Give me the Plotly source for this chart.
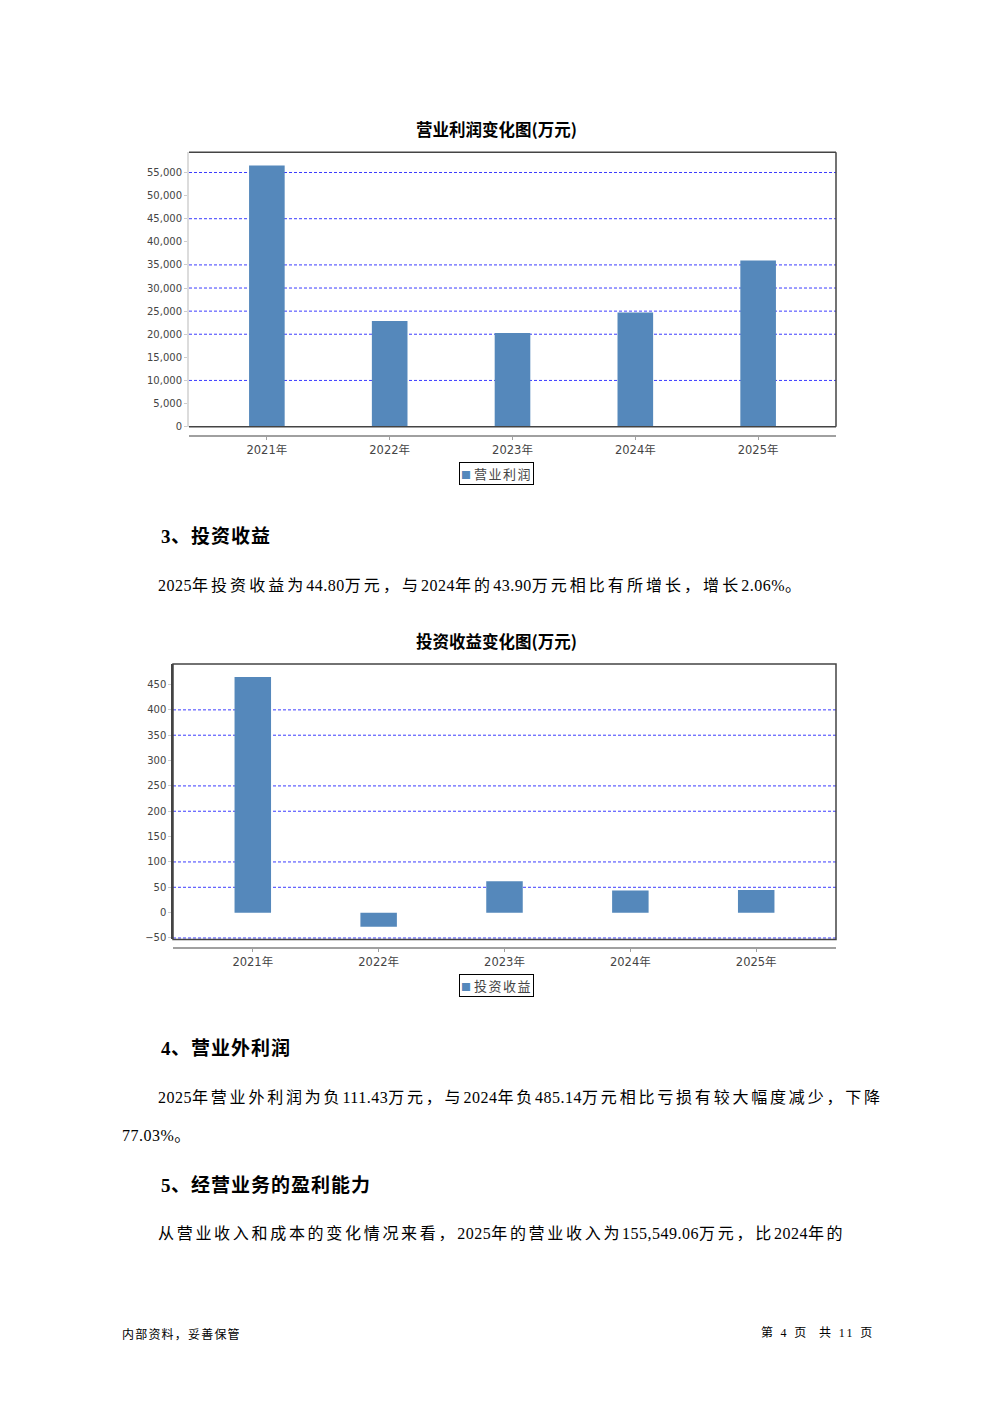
import re
import plotly.graph_objects as go

PAGE_W, PAGE_H = 992, 1403
OFF = 8  # default body margin of the html page
W, H = PAGE_W - 2 * OFF, 1365  # keep the page from growing past the window
VSCALE = 0.995  # observed vertical squeeze of the captured page

years = ["2021年", "2022年", "2023年", "2024年", "2025年"]
op_profit = [56500, 22880, 20280, 24690, 35950]
inv_income = [464.7, -27.6, 62.1, 43.90, 44.80]

op_ticks = list(range(0, 55001, 5000))
inv_ticks = list(range(-50, 451, 50))
op_grid = [55000, 45000, 35000, 30000, 25000, 20000, 10000]
inv_grid = [400, 350, 250, 200, 100, 50, -50]

BAR = "#5588bb"
GRID = "#3c3cff"
FRAME = "#444444"
TICKFONT_Y = dict(family="DejaVu Sans", size=10, color="#444444")
TICKFONT_X = dict(family="DejaVu Sans, Noto Sans CJK SC", size=11.5, color="#444444")
SERIF = "Liberation Serif, Noto Sans CJK SC"
CJK = "Noto Sans CJK SC"


def px(x):
    return (x - OFF) / W


def py(y):
    y = (y - 0.65) / VSCALE
    return 1 - (y - OFF) / H


fig = go.Figure()
fig.add_trace(go.Bar(x=years, y=op_profit, name="营业利润", width=0.29,
                     marker=dict(color=BAR, line=dict(width=0)),
                     xaxis="x", yaxis="y", showlegend=False))
fig.add_trace(go.Bar(x=years, y=inv_income, name="投资收益", width=0.29,
                     marker=dict(color=BAR, line=dict(width=0)),
                     xaxis="x2", yaxis="y2", showlegend=False))

xcommon = dict(type="category", range=[-0.634, 4.634], showline=True,
               linecolor="#a0a0a0", linewidth=2, ticks="outside", ticklen=3,
               tickcolor="#a0a0a0", tickfont=TICKFONT_X, showgrid=False,
               zeroline=False, anchor="free")
ycommon = dict(showgrid=False, zeroline=False, showline=True, ticks="outside",
               ticklen=3, tickcolor="#cccccc", tickfont=TICKFONT_Y)

fig.update_layout(
    width=W, height=H, margin=dict(l=0, r=0, t=0, b=0),
    paper_bgcolor="white", plot_bgcolor="white",
    barmode="group",
    xaxis=dict(xcommon, domain=[px(189), px(836)], position=py(436.5)),
    yaxis=dict(ycommon, domain=[py(427), py(152.7)], anchor="x",
               range=[0, 59400], tickvals=op_ticks, tickformat=",d",
               linecolor="#dcdcdc", linewidth=2),
    xaxis2=dict(xcommon, domain=[px(173), px(836)], position=py(948)),
    yaxis2=dict(ycommon, domain=[py(939.5), py(664.3)], anchor="x2",
                range=[-52.9, 490.3], tickvals=inv_ticks,
                linecolor=FRAME, linewidth=1.5),
)

shapes = []
# chart 1 frame: bottom, right, top (left side is the light axis line)
for (x0, y0, x1, y1) in [(0, 0, 1, 0), (1, 0, 1, 1), (0, 1, 1, 1)]:
    shapes.append(dict(type="line", xref="x domain", yref="y domain",
                       x0=x0, y0=y0, x1=x1, y1=y1,
                       line=dict(color=FRAME, width=1.5), layer="above"))
shapes.append(dict(type="rect", xref="x2 domain", yref="y2 domain",
                   x0=0, y0=0, x1=1, y1=1,
                   line=dict(color=FRAME, width=1.5), layer="above"))
for v in op_grid:
    shapes.append(dict(type="line", xref="x domain", yref="y", x0=0, x1=1,
                       y0=v, y1=v, layer="below",
                       line=dict(color=GRID, width=1, dash="3px,2px")))
for v in inv_grid:
    shapes.append(dict(type="line", xref="x2 domain", yref="y2", x0=0, x1=1,
                       y0=v, y1=v, layer="below",
                       line=dict(color=GRID, width=1, dash="3px,2px")))
fig.update_layout(shapes=shapes)

anns = []

CJK_RE = re.compile(r"([\u3000-\u303f\u4e00-\u9fff\uff00-\uffef]+)")


def spaced(s, cjk_sp, other_sp):
    out = []
    for part in CJK_RE.split(s):
        if not part:
            continue
        sp = cjk_sp if CJK_RE.fullmatch(part) else other_sp
        out.append('<span style="letter-spacing:%spx">%s</span>' % (sp, part))
    return "".join(out)


def text(x, y, s, size, family, anchor="left", bold=False, color="#000000", **kw):
    d = dict(x=px(x), y=py(y), xref="paper", yref="paper", text=s,
             showarrow=False, xanchor=anchor, yanchor="middle",
             font=dict(family=family, size=size, color=color,
                       weight="bold" if bold else "normal"))
    d.update(kw)
    anns.append(d)


# chart titles
text(496, 130, "营业利润变化图(万元)", 16.5, CJK, anchor="center", bold=True)
text(496, 641, "投资收益变化图(万元)", 16.5, CJK, anchor="center", bold=True)

# legends (boxed keys under each chart)
for yc, name in [(473.5, "营业利润"), (985.5, "投资收益")]:
    text(496, yc,
         '<span style="color:%s;font-size:10px">■</span>\u00a0%s'
         % (BAR, spaced(name, 1.5, 0)),
         13, CJK, anchor="center", color="#444444",
         bordercolor="#000000", borderwidth=1, borderpad=1, bgcolor="white")

# document text
text(159, 537, spaced("3、投资收益", 1.0, 0.5), 19, SERIF, bold=True)
text(156, 586, spaced("2025年投资收益为44.80万元，与2024年的43.90万元相比有所增长，增长2.06%。", 3.05, 0.5),
     16, SERIF)
text(159, 1048, spaced("4、营业外利润", 1.0, 0.5), 19, SERIF, bold=True)
text(156, 1097, spaced("2025年营业外利润为负111.43万元，与2024年负485.14万元相比亏损有较大幅度减少，下降", 2.8, 0.5),
     16, SERIF)
text(120, 1135, spaced("77.03%。", 2.7, 0.5), 16, SERIF)
text(159, 1185, spaced("5、经营业务的盈利能力", 1.0, 0.5), 19, SERIF, bold=True)
text(156, 1233, spaced("从营业收入和成本的变化情况来看，2025年的营业收入为155,549.06万元，比2024年的", 2.7, 0.5),
     16, SERIF)

# footer
text(120, 1333, spaced("内部资料，妥善保管", 1.2, 0), 12, CJK)
text(759, 1333, '<span style="letter-spacing:2.3px">第 4 页\u00a0\u00a0共 11 页</span>', 12, SERIF)

fig.update_layout(annotations=anns)

fig.write_html("out.html")
